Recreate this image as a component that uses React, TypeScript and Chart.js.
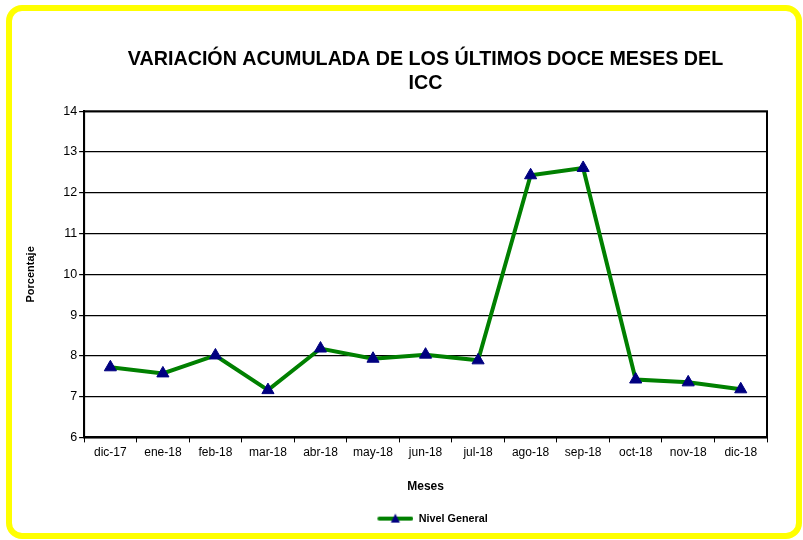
import React, { useEffect, useRef } from "react";
import { Chart, registerables } from "chart.js";

Chart.register(...registerables);

const categories = ["dic-17", "ene-18", "feb-18", "mar-18", "abr-18", "may-18", "jun-18", "jul-18", "ago-18", "sep-18", "oct-18", "nov-18", "dic-18"];
const nivelGeneral = [7.72, 7.57, 8.01, 7.16, 8.18, 7.93, 8.03, 7.89, 12.43, 12.61, 7.42, 7.35, 7.18];
const yTicks = [6, 7, 8, 9, 10, 11, 12, 13, 14];
const titleLines = ["VARIACIÓN ACUMULADA DE LOS ÚLTIMOS DOCE MESES DEL", "ICC"];
const seriesName = "Nivel General";

const FONT = "'Liberation Sans', Arial, sans-serif";
const LINE_COLOR = "#008000";
const MARKER_COLOR = "#000080";

function legendIcon(): HTMLCanvasElement {
  const c = document.createElement("canvas");
  c.width = 50;
  c.height = 12;
  const ctx = c.getContext("2d")!;
  ctx.strokeStyle = LINE_COLOR;
  ctx.lineWidth = 4;
  ctx.lineCap = "round";
  ctx.beginPath();
  ctx.moveTo(16, 6);
  ctx.lineTo(48, 6);
  ctx.stroke();
  ctx.fillStyle = MARKER_COLOR;
  ctx.beginPath();
  ctx.moveTo(32, 1);
  ctx.lineTo(36.5, 10);
  ctx.lineTo(27.5, 10);
  ctx.closePath();
  ctx.fill();
  return c;
}

const borderPlugin = {
  id: "plotBorder",
  afterDraw(chart: any) {
    const { ctx, chartArea } = chart;
    ctx.save();
    ctx.strokeStyle = "#000";
    ctx.lineWidth = 2;
    ctx.strokeRect(chartArea.left, chartArea.top, chartArea.right - chartArea.left, chartArea.bottom - chartArea.top);
    ctx.restore();
  },
};

export default function App() {
  const ref = useRef<HTMLCanvasElement | null>(null);

  useEffect(() => {
    if (!ref.current) return;
    const icon = legendIcon();
    const chart = new Chart(ref.current, {
      type: "line",
      data: {
        labels: categories,
        datasets: [
          {
            label: seriesName,
            data: nivelGeneral,
            borderColor: LINE_COLOR,
            backgroundColor: MARKER_COLOR,
            borderWidth: 4,
            pointStyle: "triangle",
            pointRadius: 7,
            pointHoverRadius: 7,
            pointBackgroundColor: MARKER_COLOR,
            pointBorderColor: MARKER_COLOR,
            pointBorderWidth: 1,
            tension: 0,
          },
        ],
      },
      options: {
        animation: false,
        responsive: false,
        layout: { padding: { top: 42, left: 24, right: 36, bottom: 6 } },
        plugins: {
          title: {
            display: true,
            fullSize: false,
            text: titleLines,
            color: "#000",
            font: { family: FONT, size: 19.7, weight: "bold", lineHeight: 1.2 },
            padding: { top: 6, bottom: 16 },
          },
          legend: {
            display: true,
            fullSize: false,
            position: "bottom",
            labels: {
              usePointStyle: true,
              pointStyleWidth: 50,
              color: "#000",
              font: { family: FONT, size: 10.8, weight: "bold" },
              padding: 6,
              generateLabels: (ch: any) =>
                ch.data.datasets.map((ds: any, i: number) => ({
                  text: ds.label,
                  pointStyle: icon,
                  fillStyle: MARKER_COLOR,
                  strokeStyle: LINE_COLOR,
                  lineWidth: 0,
                  datasetIndex: i,
                  hidden: false,
                })),
            },
          },
          tooltip: { enabled: false },
        },
        scales: {
          x: {
            type: "category",
            offset: true,
            grid: { display: true, offset: true, drawOnChartArea: false, drawTicks: true, tickLength: 5, color: "#000", lineWidth: 1 },
            border: { display: true, color: "#000", width: 2 },
            ticks: { color: "#000", font: { family: FONT, size: 12 }, padding: 3, maxRotation: 0, autoSkip: false },
            title: { display: true, text: "Meses", color: "#000", font: { family: FONT, size: 12, weight: "bold" }, padding: { top: 17, bottom: 13 } },
          },
          y: {
            min: 6,
            max: 14,
            afterBuildTicks: (scale: any) => {
              scale.ticks = yTicks.map((v) => ({ value: v }));
            },
            grid: { color: "#000", lineWidth: 1.2, tickLength: 5, drawTicks: true },
            border: { display: true, color: "#000", width: 2 },
            ticks: { color: "#000", font: { family: FONT, size: 12.5 }, padding: 2 },
            title: { display: true, text: "Porcentaje", color: "#000", font: { family: FONT, size: 11, weight: "bold" }, padding: { top: 0, bottom: 24 } },
          },
        },
      },
      plugins: [borderPlugin],
    });
    return () => chart.destroy();
  }, []);

  return (
    <div style={{ position: "fixed", left: 0, top: 0, width: 803, height: 540, background: "#fff" }}>
      <canvas ref={ref} width={803} height={540} style={{ position: "absolute", left: 0, top: 0, width: 803, height: 540 }} />
      <div
        style={{
          position: "absolute",
          left: 6,
          top: 5,
          width: 784,
          height: 522,
          border: "6px solid #ffff00",
          borderRadius: 16,
          pointerEvents: "none",
        }}
      />
    </div>
  );
}
